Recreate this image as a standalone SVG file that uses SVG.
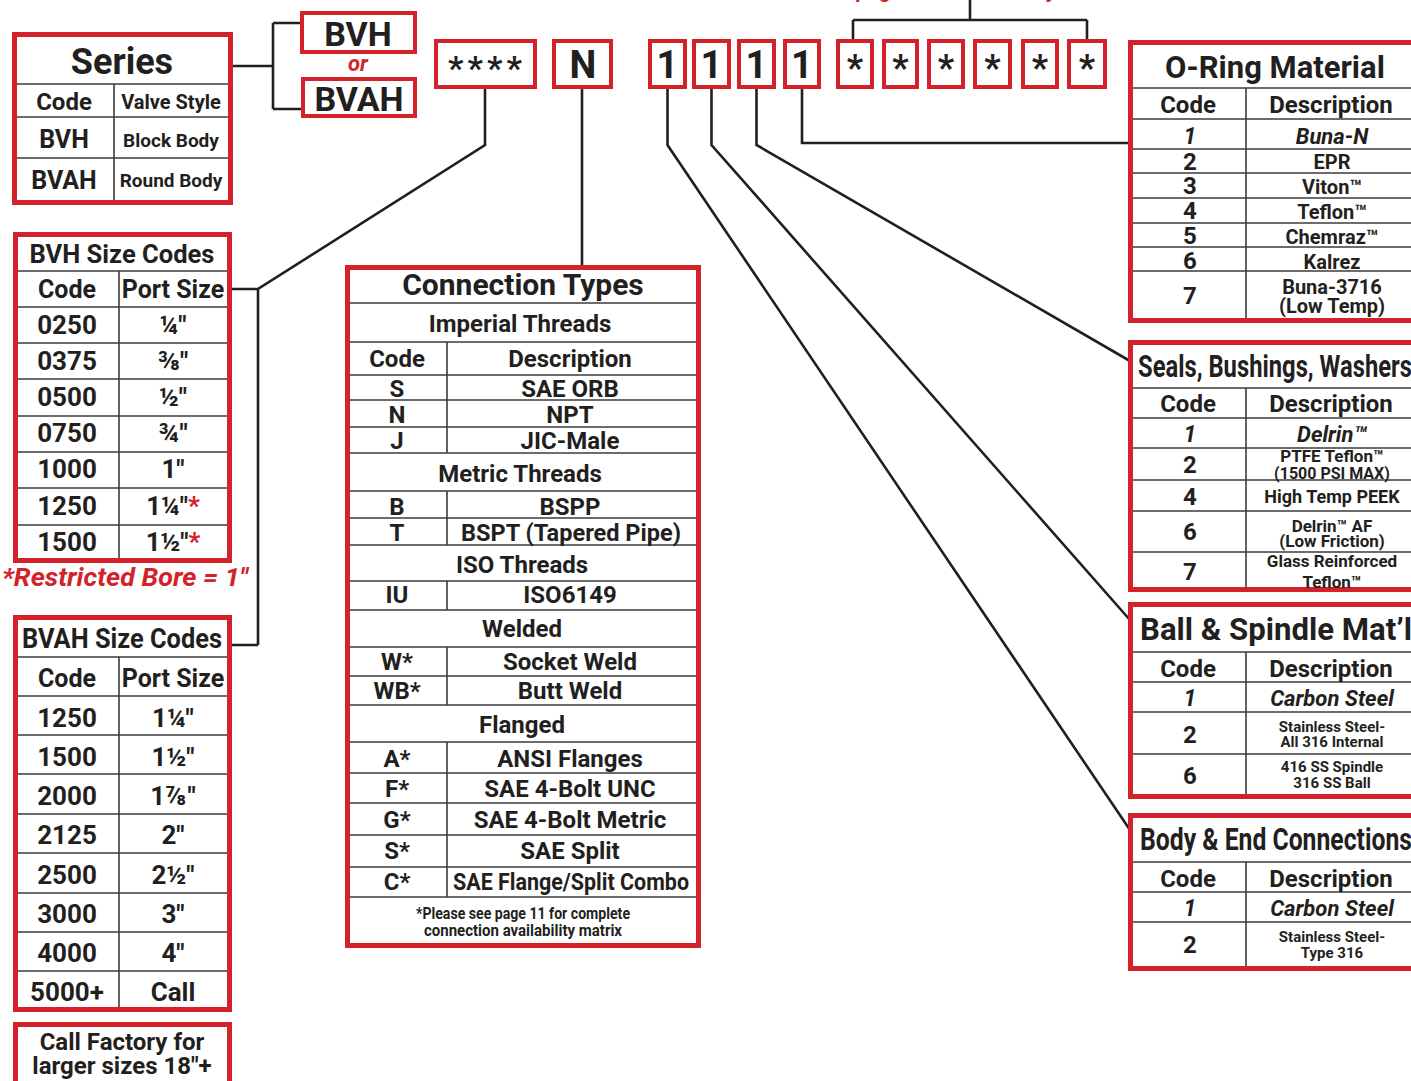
<svg xmlns="http://www.w3.org/2000/svg" width="1411" height="1081" viewBox="0 0 1411 1081">
<style>
.bg{fill:#ffffff}
.rb{fill:#ffffff;stroke:#d3222a;stroke-width:5}
.kb{fill:#ffffff;stroke:#d3222a;stroke-width:4}
.g{stroke:#3c3c3c;stroke-width:1.6;fill:none}
.cn{stroke:#231f20;stroke-width:2.6;fill:none}
text{font-family:Roboto,"Liberation Sans",sans-serif;font-weight:700;fill:#231f20;text-anchor:middle}
.red{fill:#d3222a}
.it{font-style:italic}
.st{text-anchor:start}
</style>
<rect class="bg" x="0" y="0" width="1411" height="1081"/>

<g id="connectors">
  <path class="cn" d="M233,66 H273 M273,23 V109 M273,23 H301 M273,109 H301"/>
  <path class="cn" d="M485,89 V145 L258,289 V645 M232,289 H258 M232,645 H258"/>
  <path class="cn" d="M582,89 V266"/>
  <path class="cn" d="M667.5,89 V145 L1130,830"/>
  <path class="cn" d="M711.5,89 V145 L1130,620"/>
  <path class="cn" d="M756.5,89 V145 L1130,361"/>
  <path class="cn" d="M802,89 V143 H1130"/>
  <path class="cn" d="M970,0 V20 M853,20 H1087 M853,20 V40 M1087,20 V40"/>
</g>

<g id="accessory-note">
  <text class="red it" x="968" y="-3" font-size="22" font-weight="400">See page 4 for accessory codes</text>
</g>

<g id="series">
  <rect class="rb" x="14.5" y="34.5" width="216" height="168"/>
  <path class="g" d="M17,84 H228 M17,117 H228 M17,158 H228 M114,84 V200"/>
  <text x="122" y="74" font-size="36">Series</text>
  <text x="64" y="110" font-size="24">Code</text>
  <text x="171" y="109" font-size="20">Valve Style</text>
  <text x="64" y="148" font-size="25">BVH</text>
  <text x="171" y="147" font-size="19">Block Body</text>
  <text x="64" y="189" font-size="25">BVAH</text>
  <text x="171" y="187" font-size="19">Round Body</text>
</g>

<g id="bvh-key">
  <rect class="kb" x="302" y="13" width="113" height="39"/>
  <text x="358" y="46" font-size="34">BVH</text>
</g>
<text class="red it" x="358" y="71" font-size="22">or</text>
<g id="bvah-key">
  <rect class="kb" x="303" y="79" width="112" height="37"/>
  <text x="359" y="111" font-size="34">BVAH</text>
</g>

<g id="size-key">
  <rect class="kb" x="436" y="41" width="99" height="46"/>
  <text x="487" y="80" font-size="34" letter-spacing="4">****</text>
</g>
<g id="conn-key">
  <rect class="kb" x="554" y="41" width="57" height="46"/>
  <text x="583" y="78" font-size="38">N</text>
</g>
<g id="key-1a"><rect class="kb" x="650" y="41" width="35" height="46"/><text x="667.5" y="78" font-size="38">1</text></g>
<g id="key-1b"><rect class="kb" x="694" y="41" width="35" height="46"/><text x="711.5" y="78" font-size="38">1</text></g>
<g id="key-1c"><rect class="kb" x="739" y="41" width="35" height="46"/><text x="756.5" y="78" font-size="38">1</text></g>
<g id="key-1d"><rect class="kb" x="785" y="41" width="34" height="46"/><text x="802" y="78" font-size="38">1</text></g>
<g id="key-s1"><rect class="kb" x="838" y="41" width="34" height="46"/><text x="855" y="80" font-size="36">*</text></g>
<g id="key-s2"><rect class="kb" x="884" y="41" width="33" height="46"/><text x="900.5" y="80" font-size="36">*</text></g>
<g id="key-s3"><rect class="kb" x="929" y="41" width="34" height="46"/><text x="946" y="80" font-size="36">*</text></g>
<g id="key-s4"><rect class="kb" x="975" y="41" width="35" height="46"/><text x="992.5" y="80" font-size="36">*</text></g>
<g id="key-s5"><rect class="kb" x="1023" y="41" width="34" height="46"/><text x="1040" y="80" font-size="36">*</text></g>
<g id="key-s6"><rect class="kb" x="1069" y="41" width="36" height="46"/><text x="1087" y="80" font-size="36">*</text></g>

<g id="bvh-size-codes">
  <rect class="rb" x="15.5" y="234.5" width="214" height="326"/>
  <path class="g" d="M18,271 H227 M18,307 H227 M18,343 H227 M18,379 H227 M18,416 H227 M18,452 H227 M18,488 H227 M18,525 H227 M119,271 V558"/>
  <text x="122" y="263" font-size="26" textLength="185" lengthAdjust="spacingAndGlyphs">BVH Size Codes</text>
  <text x="67" y="298" font-size="25">Code</text>
  <text x="173" y="298" font-size="25">Port Size</text>
  <text x="67" y="334" font-size="26">0250</text><text x="173" y="334" font-size="26">¼"</text>
  <text x="67" y="370" font-size="26">0375</text><text x="173" y="370" font-size="26">⅜"</text>
  <text x="67" y="406" font-size="26">0500</text><text x="173" y="406" font-size="26">½"</text>
  <text x="67" y="442" font-size="26">0750</text><text x="173" y="442" font-size="26">¾"</text>
  <text x="67" y="478" font-size="26">1000</text><text x="173" y="478" font-size="26">1"</text>
  <text x="67" y="515" font-size="26">1250</text><text x="173" y="515" font-size="26">1¼"<tspan class="red">*</tspan></text>
  <text x="67" y="551" font-size="26">1500</text><text x="173" y="551" font-size="26">1½"<tspan class="red">*</tspan></text>
</g>
<text class="red it" x="125" y="586" font-size="25" textLength="246" lengthAdjust="spacingAndGlyphs">*Restricted Bore = 1"</text>

<g id="bvah-size-codes">
  <rect class="rb" x="15.5" y="617.5" width="214" height="392"/>
  <path class="g" d="M18,657 H227 M18,696 H227 M18,735 H227 M18,774 H227 M18,814 H227 M18,853 H227 M18,893 H227 M18,932 H227 M18,971 H227 M119,657 V1007"/>
  <text x="122" y="648" font-size="27" textLength="200" lengthAdjust="spacingAndGlyphs">BVAH Size Codes</text>
  <text x="67" y="687" font-size="25">Code</text>
  <text x="173" y="687" font-size="25">Port Size</text>
  <text x="67" y="727" font-size="26">1250</text><text x="173" y="727" font-size="26">1¼"</text>
  <text x="67" y="766" font-size="26">1500</text><text x="173" y="766" font-size="26">1½"</text>
  <text x="67" y="805" font-size="26">2000</text><text x="173" y="805" font-size="26">1⅞"</text>
  <text x="67" y="844" font-size="26">2125</text><text x="173" y="844" font-size="26">2"</text>
  <text x="67" y="884" font-size="26">2500</text><text x="173" y="884" font-size="26">2½"</text>
  <text x="67" y="923" font-size="26">3000</text><text x="173" y="923" font-size="26">3"</text>
  <text x="67" y="962" font-size="26">4000</text><text x="173" y="962" font-size="26">4"</text>
  <text x="67" y="1001" font-size="26">5000+</text><text x="173" y="1001" font-size="26">Call</text>
</g>

<g id="call-factory">
  <rect class="rb" x="15.5" y="1024.5" width="214" height="80"/>
  <text x="122" y="1050" font-size="24">Call Factory for</text>
  <text x="122" y="1074" font-size="24">larger sizes 18"+</text>
</g>

<g id="connection-types">
  <rect class="rb" x="347.5" y="267.5" width="351" height="678"/>
  <path class="g" d="M350,303 H696 M350,342 H696 M350,375 H696 M350,400 H696 M350,427 H696 M350,453 H696 M350,491 H696 M350,518 H696 M350,545 H696 M350,581 H696 M350,610 H696 M350,647 H696 M350,676 H696 M350,705 H696 M350,742 H696 M350,773 H696 M350,803 H696 M350,835 H696 M350,867 H696 M350,897 H696 M447,342 V453 M447,491 V545 M447,581 V610 M447,647 V705 M447,742 V897"/>
  <text x="523" y="295" font-size="30">Connection Types</text>
  <text x="520" y="332" font-size="24">Imperial Threads</text>
  <text x="397" y="367" font-size="24">Code</text><text x="570" y="367" font-size="24">Description</text>
  <text x="397" y="397" font-size="24">S</text><text x="570" y="397" font-size="24">SAE ORB</text>
  <text x="397" y="423" font-size="24">N</text><text x="570" y="423" font-size="24">NPT</text>
  <text x="397" y="449" font-size="24">J</text><text x="570" y="449" font-size="24">JIC-Male</text>
  <text x="520" y="482" font-size="24">Metric Threads</text>
  <text x="397" y="515" font-size="24">B</text><text x="570" y="515" font-size="24">BSPP</text>
  <text x="397" y="541" font-size="24">T</text><text x="571" y="541" font-size="24" textLength="220" lengthAdjust="spacingAndGlyphs">BSPT (Tapered Pipe)</text>
  <text x="522" y="573" font-size="24">ISO Threads</text>
  <text x="397" y="603" font-size="24">IU</text><text x="570" y="603" font-size="24">ISO6149</text>
  <text x="522" y="637" font-size="24">Welded</text>
  <text x="397" y="670" font-size="24">W*</text><text x="570" y="670" font-size="24">Socket Weld</text>
  <text x="397" y="699" font-size="24">WB*</text><text x="570" y="699" font-size="24">Butt Weld</text>
  <text x="522" y="733" font-size="24">Flanged</text>
  <text x="397" y="767" font-size="24">A*</text><text x="570" y="767" font-size="24">ANSI Flanges</text>
  <text x="397" y="797" font-size="24">F*</text><text x="570" y="797" font-size="24">SAE 4-Bolt UNC</text>
  <text x="397" y="828" font-size="24">G*</text><text x="570" y="828" font-size="24">SAE 4-Bolt Metric</text>
  <text x="397" y="859" font-size="24">S*</text><text x="570" y="859" font-size="24">SAE Split</text>
  <text x="397" y="890" font-size="24">C*</text><text x="571" y="890" font-size="24" textLength="236" lengthAdjust="spacingAndGlyphs">SAE Flange/Split Combo</text>
  <text x="523" y="919" font-size="16" textLength="214" lengthAdjust="spacingAndGlyphs">*Please see page 11 for complete</text>
  <text x="523" y="936" font-size="16" textLength="198" lengthAdjust="spacingAndGlyphs">connection availability matrix</text>
</g>

<g id="o-ring-material">
  <rect class="rb" x="1130.5" y="42.5" width="300" height="278"/>
  <path class="g" d="M1133,88 H1411 M1133,119 H1411 M1133,149 H1411 M1133,173 H1411 M1133,198 H1411 M1133,223 H1411 M1133,247 H1411 M1133,271 H1411 M1246,88 V318"/>
  <text x="1275" y="78" font-size="31">O-Ring Material</text>
  <text x="1188" y="113" font-size="24">Code</text><text x="1331" y="113" font-size="24">Description</text>
  <text class="it" x="1190" y="144" font-size="23">1</text><text class="it" x="1332" y="144" font-size="22">Buna-N</text>
  <text x="1190" y="170" font-size="24">2</text><text x="1332" y="169" font-size="20">EPR</text>
  <text x="1190" y="194" font-size="24">3</text><text x="1332" y="194" font-size="20">Viton™</text>
  <text x="1190" y="219" font-size="24">4</text><text x="1332" y="219" font-size="20">Teflon™</text>
  <text x="1190" y="244" font-size="24">5</text><text x="1332" y="244" font-size="20">Chemraz™</text>
  <text x="1190" y="269" font-size="24">6</text><text x="1332" y="269" font-size="20">Kalrez</text>
  <text x="1190" y="304" font-size="24">7</text><text x="1332" y="294" font-size="20">Buna-3716</text>
  <text x="1332" y="313" font-size="20">(Low Temp)</text>
</g>

<g id="seals-bushings-washers">
  <rect class="rb" x="1130.5" y="342.5" width="300" height="247"/>
  <path class="g" d="M1133,388 H1411 M1133,418 H1411 M1133,448 H1411 M1133,480 H1411 M1133,511 H1411 M1133,552 H1411 M1246,388 V587"/>
  <text class="st" x="1138" y="377" font-size="31" textLength="274" lengthAdjust="spacingAndGlyphs">Seals, Bushings, Washers</text>
  <text x="1188" y="412" font-size="24">Code</text><text x="1331" y="412" font-size="24">Description</text>
  <text class="it" x="1190" y="442" font-size="23">1</text><text class="it" x="1332" y="442" font-size="22">Delrin™</text>
  <text x="1190" y="473" font-size="24">2</text><text x="1332" y="462" font-size="17">PTFE Teflon™</text>
  <text x="1332" y="479" font-size="16">(1500 PSI MAX)</text>
  <text x="1190" y="505" font-size="24">4</text><text x="1332" y="503" font-size="18">High Temp PEEK</text>
  <text x="1190" y="540" font-size="24">6</text><text x="1332" y="532" font-size="17">Delrin™ AF</text>
  <text x="1332" y="547" font-size="17">(Low Friction)</text>
  <text x="1190" y="580" font-size="24">7</text><text x="1332" y="567" font-size="17">Glass Reinforced</text>
  <text x="1332" y="588" font-size="17">Teflon™</text>
</g>

<g id="ball-spindle">
  <rect class="rb" x="1130.5" y="604.5" width="300" height="192"/>
  <path class="g" d="M1133,652 H1411 M1133,682 H1411 M1133,712 H1411 M1133,754 H1411 M1246,652 V794"/>
  <text class="st" x="1140" y="640" font-size="31" textLength="272" lengthAdjust="spacingAndGlyphs">Ball &amp; Spindle Mat’l</text>
  <text x="1188" y="677" font-size="24">Code</text><text x="1331" y="677" font-size="24">Description</text>
  <text class="it" x="1190" y="706" font-size="23">1</text><text class="it" x="1332" y="706" font-size="22">Carbon Steel</text>
  <text x="1190" y="743" font-size="24">2</text><text x="1332" y="732" font-size="15">Stainless Steel-</text>
  <text x="1332" y="747" font-size="15">All 316 Internal</text>
  <text x="1190" y="784" font-size="24">6</text><text x="1332" y="772" font-size="15">416 SS Spindle</text>
  <text x="1332" y="788" font-size="15">316 SS Ball</text>
</g>

<g id="body-end-connections">
  <rect class="rb" x="1130.5" y="815.5" width="300" height="153"/>
  <path class="g" d="M1133,862 H1411 M1133,892 H1411 M1133,922 H1411 M1246,862 V966"/>
  <text class="st" x="1140" y="850" font-size="31" textLength="272" lengthAdjust="spacingAndGlyphs">Body &amp; End Connections</text>
  <text x="1188" y="887" font-size="24">Code</text><text x="1331" y="887" font-size="24">Description</text>
  <text class="it" x="1190" y="916" font-size="23">1</text><text class="it" x="1332" y="916" font-size="22">Carbon Steel</text>
  <text x="1190" y="953" font-size="24">2</text><text x="1332" y="942" font-size="15">Stainless Steel-</text>
  <text x="1332" y="958" font-size="15">Type 316</text>
</g>
</svg>
